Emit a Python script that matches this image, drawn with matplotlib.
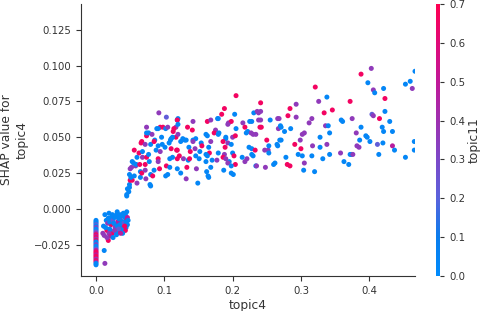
import numpy as np
import matplotlib
matplotlib.use("Agg")
import matplotlib.pyplot as plt
from matplotlib.colors import LinearSegmentedColormap

# topic11 colour levels
B, L, P, M, R = 0.04, 0.22, 0.36, 0.48, 0.66

# points at topic4 == 0
zero_shap = [-0.008, -0.009, -0.010, -0.011, -0.012, -0.013, -0.014, -0.015, -0.016, -0.017,
             -0.018, -0.019, -0.020, -0.021, -0.022, -0.023, -0.024, -0.025, -0.026, -0.027,
             -0.028, -0.029, -0.030, -0.031, -0.032, -0.033, -0.034, -0.035, -0.036, -0.037,
             -0.038, -0.039]
zero_topic11 = [B, B, B, L, B, P, B, B, L, P, R, M, R, P, R, B, B, P, B, B, L, M, R, R, M, R,
                R, P, R, M, B, B]

# (topic4, shap, topic11) for the remaining points
cluster_low = [
    (0.013, -0.004, B), (0.018, -0.0065, B), (0.022, -0.006, B), (0.011, -0.012, B), (0.010, -0.017, P),
    (0.012, -0.0185, P), (0.018, -0.022, R), (0.012, -0.029, B), (0.013, -0.038, P), (0.016, -0.015, R),
    (0.024, -0.016, B), (0.033, -0.0065, B), (0.042, -0.006, B), (0.045, -0.002, B), (0.045, -0.008, R),
    (0.038, -0.012, R), (0.029, -0.011, P), (0.022, -0.011, R), (0.034, -0.016, R), (0.040, -0.014, P),
    (0.044, -0.013, B), (0.029, -0.016, B), (0.023, -0.0175, R), (0.015, -0.008, B), (0.017, -0.010, P),
    (0.020, -0.009, B), (0.025, -0.008, L), (0.027, -0.006, B), (0.030, -0.004, B), (0.035, -0.004, B),
    (0.038, -0.005, B), (0.040, -0.003, B), (0.043, -0.004, B), (0.036, -0.008, P), (0.032, -0.009, M),
    (0.028, -0.013, P), (0.026, -0.010, B), (0.031, -0.012, B), (0.035, -0.011, B), (0.039, -0.009, B),
    (0.041, -0.010, L), (0.044, -0.009, B), (0.046, -0.011, B), (0.046, -0.006, M), (0.043, -0.015, R),
    (0.037, -0.014, B), (0.033, -0.014, L), (0.027, -0.015, P), (0.020, -0.014, B), (0.019, -0.017, P),
    (0.014, -0.013, B), (0.021, -0.019, M), (0.025, -0.020, B), (0.016, -0.020, P), (0.030, -0.018, B),
    (0.039, -0.017, B), (0.042, -0.012, R), (0.034, -0.007, B), (0.024, -0.004, B), (0.019, -0.003, B),
    (0.047, -0.008, B), (0.031, -0.002, B), (0.036, -0.017, M),
]

cluster_rise = [
    (0.045, 0.009, B), (0.045, 0.010, B), (0.048, 0.012, B), (0.046, 0.014, B), (0.049, 0.015, B),
    (0.049, 0.017, B), (0.050, 0.020, R), (0.053, 0.020, R), (0.060, 0.018, P), (0.049, 0.024, B),
    (0.051, 0.022, B), (0.056, 0.023, B), (0.065, 0.022, B), (0.050, 0.028, P), (0.052, 0.029, P),
    (0.058, 0.030, P), (0.053, 0.033, B), (0.055, 0.032, B), (0.059, 0.031, B), (0.064, 0.031, R),
    (0.072, 0.031, R), (0.065, 0.026, B), (0.067, 0.025, R), (0.072, 0.027, P), (0.060, 0.036, B),
    (0.068, 0.036, P), (0.074, 0.036, R), (0.056, 0.041, R), (0.063, 0.039, R), (0.068, 0.040, B),
    (0.073, 0.021, P), (0.079, 0.017, B), (0.080, 0.016, B), (0.080, 0.024, B), (0.083, 0.023, R),
    (0.085, 0.027, B), (0.077, 0.038, B), (0.078, 0.033, B), (0.067, 0.047, R), (0.066, 0.046, R),
    (0.072, 0.045, P), (0.080, 0.045, B), (0.074, 0.051, R), (0.074, 0.053, B), (0.077, 0.053, B),
    (0.082, 0.052, P), (0.074, 0.057, P), (0.086, 0.048, B), (0.085, 0.047, R), (0.088, 0.041, B),
    (0.094, 0.040, P), (0.091, 0.035, R), (0.091, 0.033, P), (0.093, 0.028, R), (0.092, 0.067, P),
    (0.103, 0.064, L), (0.119, 0.062, B), (0.094, 0.057, R), (0.098, 0.057, R), (0.089, 0.056, B),
    (0.091, 0.056, B), (0.102, 0.056, B), (0.105, 0.057, P), (0.117, 0.057, P), (0.113, 0.054, R),
    (0.114, 0.056, R), (0.096, 0.050, B), (0.109, 0.048, B), (0.117, 0.050, R), (0.101, 0.043, B),
    (0.110, 0.042, R), (0.118, 0.041, R), (0.112, 0.036, B), (0.091, 0.044, B), (0.097, 0.045, B),
    (0.107, 0.046, B), (0.103, 0.030, R), (0.108, 0.029, B), (0.105, 0.024, B), (0.102, 0.023, B),
    (0.110, 0.049, B), (0.108, 0.035, B), (0.119, 0.035, R), (0.120, 0.063, B), (0.119, 0.062, R),
    (0.112, 0.050, B),
]

cluster_mid = [
    (0.120, 0.059, B), (0.134, 0.057, R), (0.141, 0.055, R), (0.142, 0.061, P), (0.120, 0.052, P),
    (0.127, 0.049, B), (0.130, 0.048, B), (0.132, 0.048, B), (0.124, 0.047, B), (0.142, 0.048, B),
    (0.146, 0.049, B), (0.142, 0.047, P), (0.136, 0.043, B), (0.119, 0.041, R), (0.138, 0.040, R),
    (0.145, 0.042, P), (0.152, 0.040, B), (0.154, 0.046, B), (0.122, 0.037, R), (0.135, 0.034, B),
    (0.137, 0.035, R), (0.128, 0.035, P), (0.151, 0.035, B), (0.146, 0.037, B), (0.133, 0.029, R),
    (0.119, 0.028, B), (0.147, 0.028, P), (0.124, 0.025, B), (0.132, 0.021, P), (0.149, 0.018, B),
    (0.155, 0.044, R), (0.161, 0.052, B), (0.163, 0.051, B), (0.163, 0.061, R), (0.168, 0.062, P),
    (0.178, 0.063, B), (0.175, 0.055, P), (0.173, 0.053, R), (0.180, 0.053, B), (0.179, 0.052, B),
    (0.168, 0.047, P), (0.165, 0.043, B), (0.166, 0.039, R), (0.161, 0.038, B), (0.163, 0.037, B),
    (0.161, 0.033, B), (0.170, 0.034, B), (0.177, 0.034, P), (0.168, 0.029, B), (0.162, 0.026, B),
    (0.165, 0.022, B), (0.164, 0.023, B), (0.179, 0.039, B), (0.188, 0.038, P), (0.188, 0.070, R),
    (0.184, 0.066, R), (0.179, 0.063, B), (0.194, 0.060, P), (0.198, 0.061, R), (0.193, 0.059, P),
    (0.190, 0.050, B), (0.190, 0.049, B), (0.186, 0.047, R), (0.189, 0.043, R), (0.193, 0.046, P),
    (0.198, 0.045, B), (0.200, 0.050, P), (0.204, 0.051, R), (0.205, 0.056, B), (0.203, 0.066, B),
    (0.205, 0.079, R), (0.200, 0.039, B), (0.202, 0.037, R), (0.195, 0.033, B), (0.193, 0.032, P),
    (0.204, 0.031, R), (0.198, 0.030, B), (0.187, 0.027, B), (0.198, 0.025, B), (0.201, 0.024, B),
    (0.186, 0.036, R), (0.190, 0.035, P), (0.215, 0.060, P), (0.218, 0.057, R), (0.225, 0.061, B),
    (0.228, 0.061, B), (0.222, 0.054, B), (0.227, 0.053, P), (0.220, 0.053, B), (0.234, 0.052, P),
    (0.230, 0.052, P), (0.231, 0.067, B), (0.238, 0.067, P), (0.236, 0.068, P), (0.224, 0.043, B),
    (0.228, 0.042, B), (0.233, 0.041, R), (0.230, 0.037, B), (0.228, 0.038, B), (0.221, 0.035, P),
    (0.214, 0.036, B), (0.218, 0.033, P), (0.234, 0.030, B), (0.235, 0.030, P), (0.241, 0.074, R),
    (0.241, 0.068, P), (0.241, 0.062, P), (0.242, 0.057, R), (0.240, 0.057, R), (0.238, 0.062, P),
]

cluster_right = [
    (0.250, 0.048, R), (0.255, 0.062, B), (0.266, 0.063, P), (0.268, 0.063, P), (0.267, 0.056, P),
    (0.270, 0.058, B), (0.271, 0.057, B), (0.271, 0.048, B), (0.281, 0.065, R), (0.285, 0.056, B),
    (0.284, 0.070, R), (0.293, 0.073, P), (0.293, 0.064, P), (0.276, 0.054, B), (0.265, 0.045, B),
    (0.266, 0.044, B), (0.291, 0.045, R), (0.299, 0.048, P), (0.302, 0.052, P), (0.305, 0.053, P),
    (0.321, 0.085, R), (0.316, 0.063, P), (0.312, 0.060, P), (0.326, 0.075, P), (0.334, 0.067, R),
    (0.338, 0.078, B), (0.346, 0.069, R), (0.336, 0.058, P), (0.340, 0.058, B), (0.342, 0.053, B),
    (0.328, 0.050, B), (0.338, 0.045, P), (0.317, 0.044, P), (0.328, 0.043, B), (0.372, 0.075, R),
    (0.375, 0.063, P), (0.359, 0.062, B), (0.361, 0.061, B), (0.388, 0.057, B), (0.381, 0.053, P),
    (0.395, 0.051, B), (0.397, 0.050, B), (0.401, 0.047, B), (0.382, 0.044, P), (0.385, 0.043, P),
    (0.388, 0.094, R), (0.403, 0.098, P), (0.398, 0.088, B), (0.406, 0.083, P), (0.408, 0.081, B),
    (0.421, 0.084, B), (0.423, 0.077, R), (0.423, 0.068, B), (0.404, 0.066, L), (0.406, 0.065, P),
    (0.415, 0.063, R), (0.419, 0.057, B), (0.430, 0.061, B), (0.434, 0.054, B), (0.412, 0.045, L),
    (0.420, 0.046, B), (0.453, 0.087, B), (0.460, 0.089, B), (0.463, 0.084, P), (0.467, 0.096, B),
    (0.247, 0.041, P), (0.252, 0.041, P), (0.253, 0.044, B), (0.253, 0.039, B), (0.248, 0.029, P),
    (0.260, 0.031, B), (0.262, 0.032, B), (0.269, 0.048, B), (0.278, 0.036, B), (0.280, 0.031, R),
    (0.284, 0.030, R), (0.300, 0.042, R), (0.296, 0.038, B), (0.302, 0.037, B), (0.305, 0.032, P),
    (0.304, 0.027, B), (0.320, 0.026, B), (0.316, 0.037, B), (0.332, 0.035, B), (0.342, 0.038, B),
    (0.358, 0.039, P), (0.363, 0.033, B), (0.370, 0.031, B), (0.372, 0.038, B), (0.374, 0.038, B),
    (0.376, 0.038, P), (0.386, 0.048, B), (0.414, 0.038, B), (0.421, 0.054, B), (0.434, 0.044, M),
    (0.437, 0.041, B), (0.453, 0.036, B), (0.466, 0.047, B), (0.466, 0.041, B),
]

others = cluster_low + cluster_rise + cluster_mid + cluster_right
topic4 = [0.0] * len(zero_shap) + [p[0] for p in others]
shap_topic4 = zero_shap + [p[1] for p in others]
topic11 = zero_topic11 + [p[2] for p in others]

x_ticks = [0.0, 0.1, 0.2, 0.3, 0.4]
y_ticks = [-0.025, 0.0, 0.025, 0.05, 0.075, 0.1, 0.125]
cb_ticks = [0.0, 0.1, 0.2, 0.3, 0.4, 0.5, 0.6, 0.7]

red_blue = LinearSegmentedColormap.from_list("red_blue", [
    (0.0, "#008bfc"), (1/7, "#0a7ded"), (2/7, "#5a62dc"), (3/7, "#7c48c8"),
    (4/7, "#9e30b0"), (5/7, "#c01898"), (6/7, "#e00a78"), (1.0, "#ff0052")])

axis_color = "#333333"
fig = plt.figure(figsize=(4.82, 3.11), dpi=100)
ax = fig.add_axes([0.168, 0.1125, 0.693, 0.875])
cax = fig.add_axes([0.9046, 0.1125, 0.0083, 0.875])

sc = ax.scatter(topic4, shap_topic4, c=topic11, cmap=red_blue, vmin=0, vmax=0.7,
                s=13, linewidths=0, alpha=1, rasterized=True)

ax.set_xlim(-0.022, 0.467)
ax.set_ylim(-0.0468, 0.143)
ax.set_xticks(x_ticks)
ax.set_xticklabels([f"{v:.1f}" for v in x_ticks])
ax.set_yticks(y_ticks)
ax.set_yticklabels([f"{v:.3f}".replace("-", "\u2212") for v in y_ticks])
for s in ["top", "right"]:
    ax.spines[s].set_visible(False)
for s in ["left", "bottom"]:
    ax.spines[s].set_color(axis_color)
ax.tick_params(color=axis_color, labelcolor=axis_color, labelsize=7.3, length=3.5)
ax.set_xlabel("topic4", fontsize=8.8, color=axis_color, labelpad=2)
ax.set_ylabel("SHAP value for\ntopic4", fontsize=8.8, color=axis_color, labelpad=4)

cb = fig.colorbar(sc, cax=cax)
cb.outline.set_visible(False)
cb.set_ticks(cb_ticks)
cb.set_ticklabels([f"{v:.1f}" for v in cb_ticks])
cb.ax.tick_params(labelsize=7.3, length=3, color=axis_color, labelcolor=axis_color)
cb.set_label("topic11", fontsize=8.8, color=axis_color, labelpad=2)

fig.savefig("out.png", dpi=100)
